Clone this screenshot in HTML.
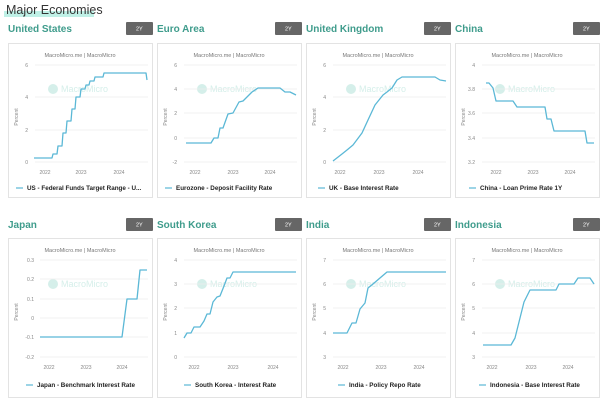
<!DOCTYPE html>
<html><head><meta charset="utf-8"><style>
body{margin:0;background:#fff;width:609px;height:404px;overflow:hidden;font-family:"Liberation Sans",sans-serif}
svg{display:block}
.t{font-size:5px;fill:#888}
.h{font-size:5.5px;fill:#777;text-anchor:middle}
.lg{font-size:6.3px;fill:#222;font-weight:bold}
.ct{font-size:10px;fill:#3f9c8c;font-weight:bold}
.g{stroke:#ececec;stroke-width:0.7}
.s{fill:none;stroke:#5bb8d6;stroke-width:1.3;stroke-linejoin:round}
.wm{font-size:9px;fill:#d5efea}
</style></head><body>
<svg width="609" height="404" viewBox="0 0 609 404">
<rect x="4" y="11" width="90" height="6" fill="#bff0e6"/>
<text x="6" y="14" font-size="12.5" fill="#333">Major Economies</text>
<defs>
<g id="btn"><rect x="118" y="-21" width="27" height="13" rx="1" fill="#666"/><text x="128" y="-12.5" font-size="5.5" fill="#fff">2Y</text></g>
</defs>

<!-- Row 1 -->
<g transform="translate(8,43)">
<text class="ct" x="0" y="-11">United States</text><use href="#btn"/>
<rect x="0.5" y="0.5" width="144" height="154" fill="none" stroke="#e3e3e3"/>
<text class="h" x="72" y="14">MacroMicro.me  |  MacroMicro</text>
<circle cx="45" cy="46" r="5" fill="#d5efea"/><text class="wm" x="53" y="49">MacroMicro</text>
<g class="g"><line x1="27" x2="140" y1="22" y2="22"/><line x1="27" x2="140" y1="54" y2="54"/><line x1="27" x2="140" y1="87" y2="87"/><line x1="27" x2="140" y1="119" y2="119"/></g>
<g class="t" text-anchor="end"><text x="20" y="24">6</text><text x="20" y="56">4</text><text x="20" y="89">2</text><text x="20" y="121">0</text></g>
<text class="t" transform="translate(10,74) rotate(-90)" text-anchor="middle">Percent</text>
<g class="t" text-anchor="middle"><text x="37" y="131">2022</text><text x="73" y="131">2023</text><text x="111" y="131">2024</text></g>
<polyline class="s" points="26,115 44,115 45,111 49,111 50,103 54,103 55,90 58,90 59,78 63,78 64,66 67,66 68,54 72,54 73,46 77,46 78,42 81,42 82,38 86,38 87,34 95,34 96,30 138,30 139,37"/>
<line x1="8" x2="15" y1="145" y2="145" stroke="#5bb8d6" stroke-width="1.2"/><text class="lg" x="19" y="147">US - Federal Funds Target Range - U...</text>
</g>

<g transform="translate(157,43)">
<text class="ct" x="0" y="-11">Euro Area</text><use href="#btn"/>
<rect x="0.5" y="0.5" width="144" height="154" fill="none" stroke="#e3e3e3"/>
<text class="h" x="72" y="14">MacroMicro.me  |  MacroMicro</text>
<circle cx="45" cy="46" r="5" fill="#d5efea"/><text class="wm" x="53" y="49">MacroMicro</text>
<g class="g"><line x1="27" x2="140" y1="22" y2="22"/><line x1="27" x2="140" y1="46" y2="46"/><line x1="27" x2="140" y1="70" y2="70"/><line x1="27" x2="140" y1="95" y2="95"/><line x1="27" x2="140" y1="119" y2="119"/></g>
<g class="t" text-anchor="end"><text x="20" y="24">6</text><text x="20" y="48">4</text><text x="20" y="72">2</text><text x="20" y="97">0</text><text x="20" y="121">-2</text></g>
<text class="t" transform="translate(10,74) rotate(-90)" text-anchor="middle">Percent</text>
<g class="t" text-anchor="middle"><text x="38" y="131">2022</text><text x="76" y="131">2023</text><text x="113" y="131">2024</text></g>
<polyline class="s" points="29,100 54,100 57,95 61,95 63,85 66,85 71,71 76,70 82,59 86,58 95,49 101,45 123,45 128,49 133,49 139,52"/>
<line x1="8" x2="15" y1="145" y2="145" stroke="#5bb8d6" stroke-width="1.2"/><text class="lg" x="19" y="147">Eurozone - Deposit Facility Rate</text>
</g>

<g transform="translate(306,43)">
<text class="ct" x="0" y="-11">United Kingdom</text><use href="#btn"/>
<rect x="0.5" y="0.5" width="144" height="154" fill="none" stroke="#e3e3e3"/>
<text class="h" x="72" y="14">MacroMicro.me  |  MacroMicro</text>
<circle cx="45" cy="46" r="5" fill="#d5efea"/><text class="wm" x="53" y="49">MacroMicro</text>
<g class="g"><line x1="27" x2="140" y1="22" y2="22"/><line x1="27" x2="140" y1="54" y2="54"/><line x1="27" x2="140" y1="87" y2="87"/><line x1="27" x2="140" y1="119" y2="119"/></g>
<g class="t" text-anchor="end"><text x="20" y="24">6</text><text x="20" y="56">4</text><text x="20" y="89">2</text><text x="20" y="121">0</text></g>
<text class="t" transform="translate(10,74) rotate(-90)" text-anchor="middle">Percent</text>
<g class="t" text-anchor="middle"><text x="34" y="131">2022</text><text x="73" y="131">2023</text><text x="112" y="131">2024</text></g>
<polyline class="s" points="27,118 36,111 41,107 47,102 56,90 62,77 69,62 77,52 81,49 86,45 91,37 96,34 129,34 134,37 140,38"/>
<line x1="12" x2="19" y1="145" y2="145" stroke="#5bb8d6" stroke-width="1.2"/><text class="lg" x="23" y="147">UK - Base Interest Rate</text>
</g>

<g transform="translate(455,43)">
<text class="ct" x="0" y="-11">China</text><use href="#btn"/>
<rect x="0.5" y="0.5" width="144" height="154" fill="none" stroke="#e3e3e3"/>
<text class="h" x="72" y="14">MacroMicro.me  |  MacroMicro</text>
<circle cx="45" cy="46" r="5" fill="#d5efea"/><text class="wm" x="53" y="49">MacroMicro</text>
<g class="g"><line x1="27" x2="140" y1="22" y2="22"/><line x1="27" x2="140" y1="46" y2="46"/><line x1="27" x2="140" y1="70" y2="70"/><line x1="27" x2="140" y1="95" y2="95"/><line x1="27" x2="140" y1="119" y2="119"/></g>
<g class="t" text-anchor="end"><text x="20" y="24">4</text><text x="20" y="48">3.8</text><text x="20" y="72">3.6</text><text x="20" y="97">3.4</text><text x="20" y="121">3.2</text></g>
<text class="t" transform="translate(10,74) rotate(-90)" text-anchor="middle">Percent</text>
<g class="t" text-anchor="middle"><text x="41" y="131">2022</text><text x="78" y="131">2023</text><text x="115" y="131">2024</text></g>
<polyline class="s" points="31,40 34,40 38,45 41,58 58,58 62,64 90,64 92,76 96,76 99,88 130,88 132,100 139,100"/>
<line x1="14" x2="21" y1="145" y2="145" stroke="#5bb8d6" stroke-width="1.2"/><text class="lg" x="25" y="147">China - Loan Prime Rate 1Y</text>
</g>

<!-- Row 2 -->
<g transform="translate(8,238)">
<text class="ct" x="0" y="-10">Japan</text><use href="#btn" transform="translate(0,1)"/>
<rect x="0.5" y="0.5" width="144" height="159" fill="none" stroke="#e3e3e3"/>
<text class="h" x="72" y="14">MacroMicro.me  |  MacroMicro</text>
<circle cx="45" cy="46" r="5" fill="#d5efea"/><text class="wm" x="53" y="49">MacroMicro</text>
<g class="g"><line x1="32" x2="140" y1="22" y2="22"/><line x1="32" x2="140" y1="41" y2="41"/><line x1="32" x2="140" y1="61" y2="61"/><line x1="32" x2="140" y1="80" y2="80"/><line x1="32" x2="140" y1="99" y2="99"/><line x1="32" x2="140" y1="119" y2="119"/></g>
<g class="t" text-anchor="end"><text x="26" y="24">0.3</text><text x="26" y="43">0.2</text><text x="26" y="63">0.1</text><text x="26" y="82">0</text><text x="26" y="101">-0.1</text><text x="26" y="121">-0.2</text></g>
<text class="t" transform="translate(10,74) rotate(-90)" text-anchor="middle">Percent</text>
<g class="t" text-anchor="middle"><text x="41" y="131">2022</text><text x="78" y="131">2023</text><text x="114" y="131">2024</text></g>
<polyline class="s" points="32,99 114,99 119,61 129,61 132,32 139,32"/>
<line x1="18" x2="25" y1="147" y2="147" stroke="#5bb8d6" stroke-width="1.2"/><text class="lg" x="29" y="149">Japan - Benchmark Interest Rate</text>
</g>

<g transform="translate(157,238)">
<text class="ct" x="0" y="-10">South Korea</text><use href="#btn" transform="translate(0,1)"/>
<rect x="0.5" y="0.5" width="144" height="159" fill="none" stroke="#e3e3e3"/>
<text class="h" x="72" y="14">MacroMicro.me  |  MacroMicro</text>
<circle cx="45" cy="46" r="5" fill="#d5efea"/><text class="wm" x="53" y="49">MacroMicro</text>
<g class="g"><line x1="27" x2="140" y1="22" y2="22"/><line x1="27" x2="140" y1="46" y2="46"/><line x1="27" x2="140" y1="70" y2="70"/><line x1="27" x2="140" y1="95" y2="95"/><line x1="27" x2="140" y1="119" y2="119"/></g>
<g class="t" text-anchor="end"><text x="20" y="24">4</text><text x="20" y="48">3</text><text x="20" y="72">2</text><text x="20" y="97">1</text><text x="20" y="121">0</text></g>
<text class="t" transform="translate(10,74) rotate(-90)" text-anchor="middle">Percent</text>
<g class="t" text-anchor="middle"><text x="37" y="131">2022</text><text x="76" y="131">2023</text><text x="116" y="131">2024</text></g>
<polyline class="s" points="27,100 30,95 34,95 37,89 43,89 47,83 50,76 53,76 56,64 60,59 63,58 67,48 70,40 73,40 76,34 139,34"/>
<line x1="27" x2="34" y1="147" y2="147" stroke="#5bb8d6" stroke-width="1.2"/><text class="lg" x="38" y="149">South Korea - Interest Rate</text>
</g>

<g transform="translate(306,238)">
<text class="ct" x="0" y="-10">India</text><use href="#btn" transform="translate(0,1)"/>
<rect x="0.5" y="0.5" width="144" height="159" fill="none" stroke="#e3e3e3"/>
<text class="h" x="72" y="14">MacroMicro.me  |  MacroMicro</text>
<circle cx="45" cy="46" r="5" fill="#d5efea"/><text class="wm" x="53" y="49">MacroMicro</text>
<g class="g"><line x1="27" x2="140" y1="22" y2="22"/><line x1="27" x2="140" y1="46" y2="46"/><line x1="27" x2="140" y1="70" y2="70"/><line x1="27" x2="140" y1="95" y2="95"/><line x1="27" x2="140" y1="119" y2="119"/></g>
<g class="t" text-anchor="end"><text x="20" y="24">7</text><text x="20" y="48">6</text><text x="20" y="72">5</text><text x="20" y="97">4</text><text x="20" y="121">3</text></g>
<text class="t" transform="translate(10,74) rotate(-90)" text-anchor="middle">Percent</text>
<g class="t" text-anchor="middle"><text x="37" y="131">2022</text><text x="75" y="131">2023</text><text x="113" y="131">2024</text></g>
<polyline class="s" points="27,95 41,95 46,85 50,85 54,71 59,65 62,50 67,46 81,34 140,34"/>
<line x1="32" x2="39" y1="147" y2="147" stroke="#5bb8d6" stroke-width="1.2"/><text class="lg" x="43" y="149">India - Policy Repo Rate</text>
</g>

<g transform="translate(455,238)">
<text class="ct" x="0" y="-10">Indonesia</text><use href="#btn" transform="translate(0,1)"/>
<rect x="0.5" y="0.5" width="144" height="159" fill="none" stroke="#e3e3e3"/>
<text class="h" x="72" y="14">MacroMicro.me  |  MacroMicro</text>
<circle cx="45" cy="46" r="5" fill="#d5efea"/><text class="wm" x="53" y="49">MacroMicro</text>
<g class="g"><line x1="27" x2="140" y1="22" y2="22"/><line x1="27" x2="140" y1="46" y2="46"/><line x1="27" x2="140" y1="70" y2="70"/><line x1="27" x2="140" y1="95" y2="95"/><line x1="27" x2="140" y1="119" y2="119"/></g>
<g class="t" text-anchor="end"><text x="20" y="24">7</text><text x="20" y="48">6</text><text x="20" y="72">5</text><text x="20" y="97">4</text><text x="20" y="121">3</text></g>
<text class="t" transform="translate(10,74) rotate(-90)" text-anchor="middle">Percent</text>
<g class="t" text-anchor="middle"><text x="37" y="131">2022</text><text x="76" y="131">2023</text><text x="113" y="131">2024</text></g>
<polyline class="s" points="28,107 56,107 60,100 69,64 75,52 101,52 104,46 119,46 123,40 135,40 139,46"/>
<line x1="24" x2="31" y1="147" y2="147" stroke="#5bb8d6" stroke-width="1.2"/><text class="lg" x="35" y="149">Indonesia - Base Interest Rate</text>
</g>
</svg>
</body></html>
